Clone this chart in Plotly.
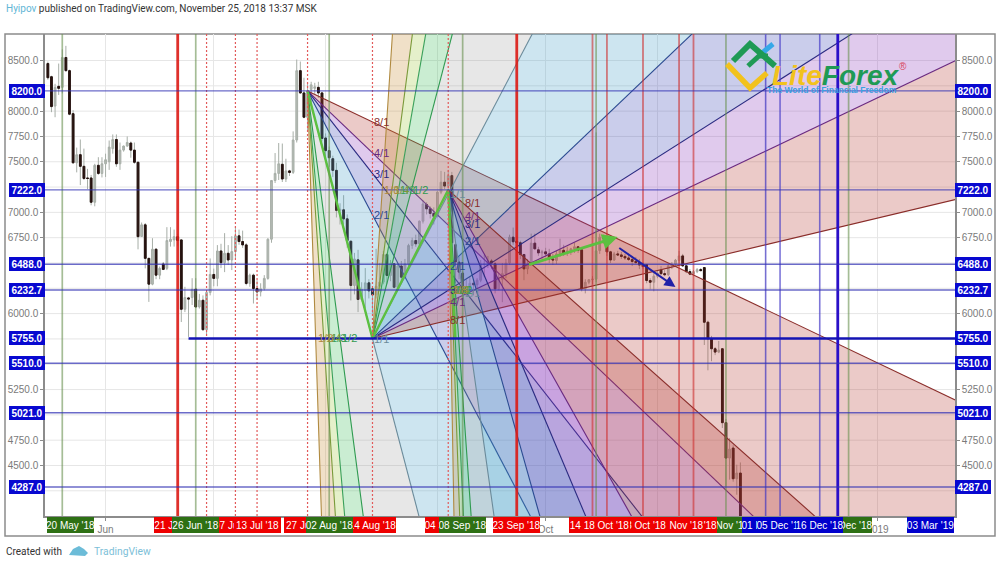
import pandas as pd
import plotly.graph_objects as go

start_date = "2018-05-16"
opens = [
 8470,8340,8050,8245,8235,8530,8400,7975,7490,7570,
 7455,7340,7340,7100,7465,7385,7480,7500,7630,7720,
 7480,7615,7655,7685,7615,7495,6762,6877,6546,6291,
 6636,6380,6490,6447,6712,6728,6760,6728,6043,6155,
 6159,6242,6066,6132,5841,6209,6387,6348,6619,6503,
 6596,6530,6613,6768,6712,6679,6298,6380,6248,6215,
 6248,6348,6735,7315,7385,7475,7330,7410,7395,7715,
 8400,8180,7940,8215,8225,8235,8180,7735,7610,7530,
 7415,7020,7025,6936,6715,6278,6531,6140,6229,6304,
 6245,6186,6270,6311,6584,6377,6492,6260,6470,6360,
 6492,6673,6722,6690,6913,7077,7035,6990,6960,7200,
 7298,7260,7363,6680,6510,6400,6200,6260,6300,6285,
 6330,6490,6490,6520,6492,6245,6340,6395,6500,6755,
 6715,6700,6584,6442,6492,6696,6630,6600,6610,6590,
 6540,6525,6590,6625,6595,6620,6640,6660,6630,6245,
 6310,6335,6340,6623,6755,6745,6610,6530,6590,6580,
 6565,6550,6535,6515,6505,6480,6485,6327,6310,6370,
 6430,6395,6385,6470,6490,6525,6570,6472,6415,6390,
 6415,6435,6455,5915,5751,5653,5620,5653,4923,4573,4672,4369,4425]
highs = [
 8490,8350,8270,8470,8610,8645,8410,8010,7640,7720,
 7630,7430,7370,7480,7545,7545,7580,7710,7770,7770,
 7690,7660,7750,7700,7690,7500,6900,6895,6550,6745,
 6645,6465,6510,6854,6854,6830,6790,6730,6265,6165,
 6350,6350,6195,6180,6230,6545,6445,6677,6690,6795,
 6677,6765,6854,6830,6820,6695,6395,6395,6330,6300,
 6380,6745,7320,7586,7685,7680,7530,7420,7800,8510,
 8490,8330,8280,8290,8280,8290,8190,7780,7650,7560,
 7490,7090,7170,6980,6720,6600,6630,6310,6450,6340,
 6255,6640,6500,6620,6600,6530,6500,6500,6520,6540,
 6690,6750,6780,6920,7120,7100,7060,7050,7210,7410,
 7400,7420,7400,6700,6560,6420,6340,6370,6340,6350,
 6530,6580,6570,6540,6510,6400,6500,6540,6780,6850,
 6770,6720,6590,6540,6790,6790,6660,6630,6650,6640,
 6590,6620,6740,6680,6660,6650,6700,6660,6640,6340,
 6340,6370,7790,6790,6780,6760,6620,6610,6620,6610,
 6590,6590,6570,6560,6540,6510,6490,6350,6400,6420,
 6470,6430,6490,6510,6540,6620,6590,6480,6440,6430,
 6450,6450,6460,5930,5780,5670,5730,5660,4960,4770,4700,4508,4530]
lows = [
 8310,7990,7940,8160,8175,8390,7960,7480,7395,7270,
 7320,7230,7070,7060,7370,7345,7350,7420,7580,7450,
 7420,7600,7650,7540,7480,6635,6760,6447,6116,6280,
 6340,6340,6430,6430,6662,6662,6670,5917,6015,5770,
 6085,6060,6050,5835,5785,6180,6270,6270,6450,6410,
 6480,6430,6550,6680,6650,6280,6265,6100,6140,6170,
 6230,6335,6700,7290,7320,7300,7300,7360,7380,7690,
 8170,7930,7810,8090,8170,8130,7700,7550,7450,7350,
 6950,6880,6880,6650,6130,6190,6015,6120,6050,6150,
 6000,6150,6220,6290,6290,6320,6250,6230,6320,6340,
 6450,6640,6660,6670,6890,6980,6940,6880,6950,7180,
 7230,7220,6680,6300,6340,6130,6170,6230,6180,6200,
 6310,6360,6450,6440,6200,6230,6113,6350,6480,6680,
 6650,6540,6330,6390,6480,6640,6570,6540,6560,6500,
 6480,6490,6560,6570,6570,6580,6600,6600,6220,6200,
 6290,6290,6310,6590,6690,6570,6500,6520,6570,6540,
 6530,6520,6470,6490,6440,6440,6300,6240,6220,6350,
 6380,6370,6370,6440,6470,6500,6460,6400,6380,6370,
 6400,6420,5690,5440,5530,5590,5610,4870,4293,4360,4340,4211,3900]
closes = [
 8330,8045,8235,8225,8530,8400,7970,7490,7570,7455,
 7335,7335,7100,7465,7385,7480,7520,7645,7720,7480,
 7615,7655,7690,7615,7495,6760,6877,6546,6291,6636,
 6380,6447,6437,6722,6735,6760,6722,6043,6159,6145,
 6242,6066,6132,5841,6209,6387,6348,6619,6503,6596,
 6530,6613,6768,6712,6679,6298,6380,6248,6215,6245,
 6348,6735,7315,7385,7480,7330,7410,7395,7715,8400,
 8180,7940,8200,8260,8240,8180,7730,7610,7540,7415,
 7020,7030,6936,6722,6278,6540,6140,6240,6304,6225,
 6186,6270,6311,6584,6377,6492,6260,6470,6360,6492,
 6673,6722,6690,6913,7084,7035,6990,6960,7200,7298,
 7260,7363,6700,6510,6410,6200,6260,6300,6285,6330,
 6490,6490,6520,6500,6245,6340,6395,6500,6755,6710,
 6700,6584,6442,6492,6696,6640,6600,6610,6590,6540,
 6530,6590,6625,6600,6620,6640,6660,6625,6245,6310,
 6335,6340,6620,6755,6745,6610,6530,6590,6580,6565,
 6550,6535,6515,6505,6480,6465,6327,6310,6370,6400,
 6395,6385,6472,6490,6528,6570,6472,6415,6390,6415,
 6435,6425,5915,5751,5653,5620,5640,4923,4573,4662,4369,4425,3900]

price_ticks = [8500, 8000, 7750, 7500, 7000, 6750, 6000, 5250, 4750, 4500]
grid_prices = [8500, 8250, 8000, 7750, 7500, 7250, 7000, 6750, 6500, 6250, 6000, 5750, 5500, 5250, 5000, 4750, 4500, 4250]
month_ticks = ["2018-06-01", "2018-07-01", "2018-08-01", "2018-09-01", "2018-10-01", "2018-11-01", "2018-12-01", "2019-01-01"]
month_labels = ["Jun", "", "", "", "Oct", "", "", "2019"]

level_prices = [8200.0, 7222.0, 6488.0, 6232.7, 5510.0, 5021.0, 4287.0]
main_level_price = 5755.0
main_level_start = "2018-06-24"

red_thick_dates = ["2018-06-21", "2018-09-23"]
red_dotted_dates = ["2018-06-29", "2018-07-07", "2018-07-13", "2018-07-27", "2018-08-14", "2018-09-04"]
red_solid_dates = ["2018-10-14", "2018-10-18", "2018-10-28", "2018-11-07", "2018-11-11"]
green_dates = ["2018-05-20", "2018-06-26", "2018-08-02", "2018-09-08", "2018-10-15", "2018-11-20", "2018-12-24"]
blue_dates = ["2018-12-01", "2018-12-05", "2018-12-16"]
blue_thick_date = "2018-12-21"

# bottom date tags, listed bottom-most first; the first green and the last blue tag sit clamped inside the axis
tag_dates = ["2018-06-21", "2018-06-29", "2018-07-07", "2018-07-13", "2018-07-27", "2018-08-14", "2018-09-04",
             "2018-05-22 08:00", "2018-06-26", "2018-08-02", "2018-09-08", "2018-09-23", "2018-10-14", "2018-11-20",
             "2018-11-11", "2018-11-07", "2018-10-28", "2018-10-18", "2018-12-21", "2018-12-24", "2018-12-01",
             "2018-12-05", "2018-12-16", "2019-01-15 17:00"]
tag_texts = ["21 Jun '18", "29 Jun '18", "07 Jul '18", "13 Jul '18", "27 Jul '18", "14 Aug '18", "04 Sep '18",
             "20 May '18", "26 Jun '18", "02 Aug '18", "08 Sep '18", "23 Sep '18", "14 Oct '18", "20 Nov '18",
             "11 Nov '18", "07 Nov '18", "28 Oct '18", "18 Oct '18", "21 Dec '18", "24 Dec '18", "01 Dec '18",
             "05 Dec '18", "16 Dec '18", "03 Mar '19"]
tag_colors = ["#ee0000"] * 7 + ["#2e7014"] * 4 + ["#ee0000"] * 2 + ["#2e7014"] + ["#ee0000"] * 4 + \
             ["#0000cc", "#2e7014"] + ["#0000cc"] * 4

fan_ratio_labels = ["8/1", "4/1", "3/1", "2/1", "1/1", "1/2", "1/3", "1/4", "1/8"]
fan_ratios = [8, 4, 3, 2, 1, 1/2, 1/3, 1/4, 1/8]
fan_line_colors = ["#8a2d2a", "#6a2a80", "#2a2a80", "#2a4a90", "#6a8a9a", "#2f9a50", "#3aa05a", "#7a9a3a", "#b08a40"]
fan_fill_colors = ["rgba(180,60,50,0.27)", "rgba(140,60,190,0.27)", "rgba(60,70,180,0.27)", "rgba(70,160,200,0.27)",
                   "rgba(150,150,150,0.23)", "rgba(60,190,90,0.27)", "rgba(160,200,60,0.27)", "rgba(200,140,50,0.27)"]
fan_pivot_dates = ["2018-07-27", "2018-08-14", "2018-09-04"]
fan_pivot_prices = [8200.0, 5755.0, 7222.0]
fan_unit_slopes = [-136.0, 67.9, -253.7]          # price per day on the 1/1 line
fan_label_dates = ["2018-08-14", "2018-09-04", "2018-09-08"]
fan_label_prices = [5755.0, 7222.0, 6232.7]

path_dates = ["2018-07-27", "2018-08-14", "2018-09-04", "2018-09-06"]
path_prices = [8200, 5755, 7222, 5755]
arrow_green = ["2018-09-26", 6480, "2018-10-21", 6757]
arrow_blue = ["2018-10-21", 6658, "2018-11-06", 6263]

L, R, T, B, W, H = 45, 955, 34, 516, 1000, 565
def px(x): return (x - L) / (R - L)
def py(y): return (B - y) / (B - T)
def d(s): return pd.Timestamp(s)

dates = pd.date_range(start_date, periods=len(opens), freq="D")
fig = go.Figure()

# full candles in gray, so every wick is gray
fig.add_trace(go.Candlestick(
    x=dates, open=opens, high=highs, low=lows, close=closes, whiskerwidth=0,
    increasing=dict(line=dict(color="#a7aea7", width=1), fillcolor="#b4bbb4"),
    decreasing=dict(line=dict(color="#a7aea7", width=1), fillcolor="#a7aea7"),
    hoverinfo="skip", showlegend=False))
# dark bodies of falling days
dn = [i for i in range(len(opens)) if closes[i] < opens[i]]
fig.add_trace(go.Candlestick(
    x=dates[dn], open=[opens[i] for i in dn], high=[opens[i] for i in dn],
    low=[closes[i] for i in dn], close=[closes[i] for i in dn], whiskerwidth=0,
    decreasing=dict(line=dict(color="#26120f", width=1), fillcolor="#26120f"),
    increasing=dict(line=dict(color="#26120f", width=1), fillcolor="#26120f"),
    hoverinfo="skip", showlegend=False))

annotations = []
FAR = 420
for pd_s, pp, unit, ld, lp in zip(fan_pivot_dates, fan_pivot_prices, fan_unit_slopes, fan_label_dates, fan_label_prices):
    p0 = d(pd_s)
    far_x = p0 + pd.Timedelta(days=FAR)
    ends = [pp + unit / r * FAR for r in fan_ratios]
    for i, col in enumerate(fan_fill_colors):
        fig.add_trace(go.Scatter(x=[p0, far_x, far_x, p0], y=[pp, ends[i], ends[i + 1], pp], mode="lines",
                                 line=dict(width=0), fill="toself", fillcolor=col,
                                 hoverinfo="skip", showlegend=False))
    for i, col in enumerate(fan_line_colors):
        fig.add_trace(go.Scatter(x=[p0, far_x], y=[pp, ends[i]], mode="lines", line=dict(color=col, width=1.1),
                                 hoverinfo="skip", showlegend=False))
    for r, txt, col in zip(fan_ratios, fan_ratio_labels, fan_line_colors):
        if r >= 1:
            days = (d(ld) - p0) / pd.Timedelta(days=1)
            ax, ay = d(ld), pp + unit / r * days
        else:
            ax, ay = p0 + pd.Timedelta(days=(lp - pp) / (unit / r)), lp
        annotations.append(dict(x=ax, y=ay, xref="x", yref="y", text=txt, showarrow=False, xanchor="left",
                                yanchor="middle", font=dict(family="Liberation Sans", size=11, color=col)))

fig.add_trace(go.Scatter(x=path_dates, y=path_prices, mode="lines", line=dict(color="#5cc040", width=2.4),
                         hoverinfo="skip", showlegend=False))
fig.add_trace(go.Scatter(x=[dates[0]], y=[8000], yaxis="y2", mode="markers", marker=dict(opacity=0),
                         hoverinfo="skip", showlegend=False))

shapes = []
def vline(date, color, width, dash="solid"):
    shapes.append(dict(type="line", xref="x", yref="paper", x0=date, x1=date, y0=0, y1=1,
                       line=dict(color=color, width=width, dash=dash)))
for v in green_dates:
    vline(v, "rgba(105,145,80,0.6)", 1.7)
for v in red_dotted_dates:
    vline(v, "#e25a5a", 1.2, "2px,2px")
for v in red_solid_dates:
    vline(v, "rgba(205,50,50,0.62)", 1.8)
for v in red_thick_dates:
    vline(v, "rgba(220,25,20,0.9)", 2.8)
for v in blue_dates:
    vline(v, "rgba(70,60,200,0.7)", 1.6)
vline(blue_thick_date, "#2a10c8", 2.8)
for lv in level_prices:
    shapes.append(dict(type="line", xref="paper", yref="y", x0=0, x1=1, y0=lv, y1=lv,
                       line=dict(color="rgba(50,50,180,0.72)", width=1.4)))
shapes.append(dict(type="line", xref="x", yref="y", x0=main_level_start, x1="2019-01-30",
                   y0=main_level_price, y1=main_level_price, line=dict(color="#1414b4", width=2.6)))
# frame of the picture
shapes.append(dict(type="rect", xref="paper", yref="paper", x0=px(5), x1=px(995), y0=py(536), y1=py(34),
                   line=dict(color="#8c8c8c", width=1.5), layer="below"))

# logo mark
def logo_path(path, color, width):
    pts = [(px(a), py(b)) for a, b in path]
    svg = "M " + " L ".join(f"{a} {b}" for a, b in pts)
    shapes.append(dict(type="path", xref="paper", yref="paper", path=svg, line=dict(color=color, width=width)))
logo_path([(727, 64), (750, 88), (767, 73)], "#f2c21c", 5.5)
logo_path([(762, 53), (773, 44)], "#35a8e8", 5)
logo_path([(733, 61), (750, 44), (775, 66)], "#1f9a55", 6)
logo_path([(748, 66), (759, 56), (768, 56)], "#1f9a55", 5)

# footer cloud
shapes.append(dict(type="path", xref="paper", yref="paper", fillcolor="#6cbcd8", line=dict(width=0),
                   path="M {} {} L {} {} L {} {} L {} {} L {} {} L {} {} Z".format(
                       px(69), py(555), px(73), py(549), px(79), py(546), px(84), py(549), px(88), py(553), px(85), py(556))))

for lv in level_prices + [main_level_price]:
    for x_pos, anc in ((0, "right"), (1, "left")):
        annotations.append(dict(x=x_pos, y=lv, xref="paper", yref="y", text=f"<b>{lv:.1f}</b>", showarrow=False,
                                xanchor=anc, yanchor="middle", width=36, height=14, bgcolor="#0808d0", borderpad=0,
                                borderwidth=0, align="center", font=dict(family="Liberation Sans", size=10, color="white")))
for t, txt, col in zip(tag_dates, tag_texts, tag_colors):
    annotations.append(dict(x=t, y=py(524.5), xref="x", yref="paper", text=txt, showarrow=False, xanchor="center",
                            yanchor="middle", width=47, height=16, bgcolor=col, borderpad=0, borderwidth=0,
                            align="center", font=dict(family="Liberation Sans", size=10, color="white")))

for a, col, wd in ((arrow_green, "#5cc040", 2.8), (arrow_blue, "#2020a8", 2.0)):
    annotations.append(dict(x=a[2], y=a[3], ax=a[0], ay=a[1], xref="x", yref="y", axref="x", ayref="y", text="",
                            showarrow=True, arrowhead=2, arrowsize=1.1, arrowwidth=wd, arrowcolor=col))

annotations += [
    dict(x=px(3.5), y=py(9), xref="paper", yref="paper", showarrow=False, xanchor="left", yanchor="middle",
         text="<span style='color:#62b6d6'>Hyipov</span> published on TradingView.com, November 25, 2018 13:37 MSK",
         font=dict(family="Roboto", size=10, color="#333333")),
    dict(x=px(3.5), y=py(551), xref="paper", yref="paper", showarrow=False, xanchor="left", yanchor="middle",
         text="Created with", font=dict(family="Roboto", size=10, color="#333333")),
    dict(x=px(91.5), y=py(551), xref="paper", yref="paper", showarrow=False, xanchor="left", yanchor="middle",
         text="TradingView", font=dict(family="Roboto", size=10.3, color="#7cc0d8")),
    dict(x=px(770), y=py(75), xref="paper", yref="paper", showarrow=False, xanchor="left", yanchor="middle",
         text="<b><i><span style='color:#f2c21c'>Lite</span><span style='color:#1f9a55'>Forex</span></i></b>",
         font=dict(family="Liberation Sans", size=28)),
    dict(x=px(903), y=py(66), xref="paper", yref="paper", showarrow=False, xanchor="center", yanchor="middle",
         text="®", font=dict(family="Liberation Sans", size=10, color="#d8455a")),
    dict(x=px(765), y=py(90), xref="paper", yref="paper", showarrow=False, xanchor="left", yanchor="middle",
         text="<b>The World of Financial Freedom</b>", font=dict(family="Liberation Sans", size=8.5, color="#3aa0e0")),
]

y_range = [4001.0, 8762.0]
y_common = dict(range=y_range, tickmode="array", tickvals=price_ticks, ticktext=[f"{v:.1f}" for v in price_ticks],
                showline=True, linecolor="#8c8c8c", linewidth=1.5, ticks="outside", ticklen=3, tickcolor="#8c8c8c",
                tickfont=dict(family="Liberation Sans", size=10, color="#7a7a7a"), zeroline=False, fixedrange=True,
                automargin=False)
for g in grid_prices:
    shapes.append(dict(type="line", xref="paper", yref="y", x0=0, x1=1, y0=g, y1=g, layer="below",
                       line=dict(color="#e6e6e6", width=1)))

fig.update_layout(
    width=W, height=H, autosize=False, margin=dict(l=L, r=W - R, t=T, b=H - B, pad=0, autoexpand=False),
    paper_bgcolor="white", plot_bgcolor="white", showlegend=False, hovermode=False,
    xaxis=dict(type="date", range=["2018-05-15 05:00", "2019-01-22 12:00"], rangeslider=dict(visible=False),
               tickmode="array", tickvals=month_ticks, ticktext=month_labels, showgrid=True, gridcolor="#e6e6e6",
               showline=True, linecolor="#8c8c8c", linewidth=1.5, ticks="outside", ticklen=3, tickcolor="#8c8c8c",
               tickfont=dict(family="Liberation Sans", size=10, color="#7a7a7a"), zeroline=False, fixedrange=True,
               automargin=False),
    yaxis=dict(side="left", showgrid=False, **y_common),
    yaxis2=dict(side="right", overlaying="y", showgrid=False, **y_common),
    shapes=shapes, annotations=annotations,
)
fig.write_html("out.html", post_script="document.body.style.margin='0';document.body.style.overflow='hidden';",
               config=dict(displayModeBar=False))
